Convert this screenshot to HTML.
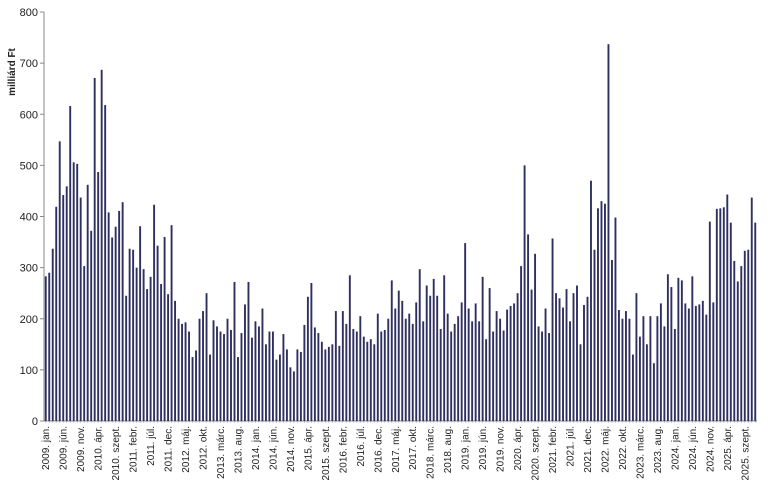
<!DOCTYPE html>
<html><head><meta charset="utf-8"><style>
body{margin:0;background:#fff;}
svg{display:block;font-family:"Liberation Sans",sans-serif;}
</style></head><body>
<svg id="chart" width="768" height="501"></svg>
<script>
const categoriesStartYear = 2009;
const monthNames = ["jan.","febr.","márc.","ápr.","máj.","jún.","júl.","aug.","szept.","okt.","nov.","dec."];
const values = [
283,290,337,419,547,442,459,616,506,503,437,303,
462,372,671,487,687,618,408,359,380,411,428,245,
337,335,300,381,297,258,282,423,343,268,360,248,
383,235,200,190,193,175,125,138,200,215,250,130,
197,185,175,170,200,178,272,125,172,228,272,163,
195,185,220,150,175,175,120,130,170,140,105,97,
140,135,188,243,270,183,172,155,140,145,150,215,
147,215,190,285,180,175,205,165,155,160,150,210,
175,178,200,275,220,255,235,200,210,190,232,297,
195,265,245,278,245,180,285,210,175,190,205,232,
348,220,195,230,195,282,160,260,175,215,200,177,
218,225,230,250,303,500,365,257,327,185,175,220,
172,357,250,240,222,258,195,250,265,150,227,243,
470,335,416,430,425,737,315,398,217,200,215,200,
130,250,165,205,150,205,113,205,230,185,287,262,
180,280,275,230,220,283,225,228,235,208,390,232,
415,416,418,443,388,313,273,303,333,335,437,388
];
const yTicks = [0,100,200,300,400,500,600,700,800];
const labelEvery = 5;

const NS="http://www.w3.org/2000/svg";
const svg=document.getElementById('chart');
const X0=44,X1=757,Y0=421,Y1=12,YMAX=800;
const slot=(X1-X0)/values.length;
const yS=v=>Y0-(v/YMAX)*(Y0-Y1);
const xS=i=>X0+i*slot;
function mk(t,a){const e=document.createElementNS(NS,t);for(const k in a)e.setAttribute(k,a[k]);svg.appendChild(e);return e;}

yTicks.forEach(t=>{
  const tk=mk('line',{x1:X0-4,x2:X0,y1:yS(t),y2:yS(t),stroke:'#888'});
  
  
  const l=mk('text',{x:X0-6,y:yS(t)+4,'text-anchor':'end','font-size':11,fill:'#222'});
  l.textContent=t;
  
  
});
const ax=mk('line',{x1:X0,x2:X0,y1:Y1,y2:Y0,stroke:'#888'});


const bx=mk('line',{x1:X0,x2:X1,y1:Y0,y2:Y0,stroke:'#888'});



const yt=mk('text',{x:0,y:0,transform:'translate(15,72) rotate(-90)','text-anchor':'middle','font-size':10,'font-weight':'bold',fill:'#222'});
yt.textContent='milliárd Ft';



values.forEach((v,i)=>{
  const b=mk('rect',{x:xS(i)+0.8,y:yS(v),width:1.9,height:Y0-yS(v),fill:'#2f2f60'});
  
  
  const tk=mk('line',{x1:xS(i)+slot/2,x2:xS(i)+slot/2,y1:Y0,y2:Y0+2,stroke:'#999','stroke-width':0.5});
  
  
  if(i%labelEvery===0){
    const yr=categoriesStartYear+Math.floor(i/12);
    const cx=xS(i)+slot/2+3.5;
    const l=mk('text',{x:0,y:0,transform:`translate(${cx},${Y0+5}) rotate(-90)`,'text-anchor':'end','font-size':10,fill:'#222'});
    l.textContent=yr+'. '+monthNames[i%12];
    
    
  }
});
</script>
</body></html>
